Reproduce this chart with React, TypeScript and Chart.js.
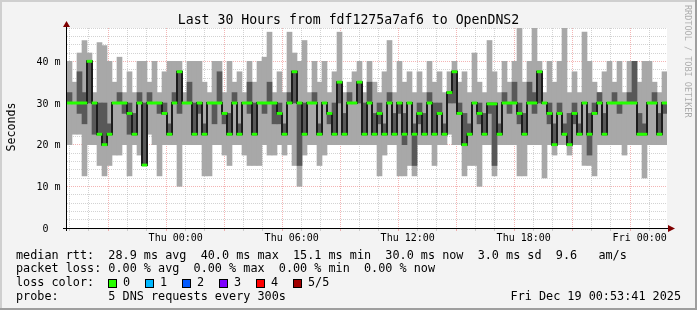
import { useEffect, useRef } from "react";
import { Chart, registerables } from "chart.js";

Chart.register(...registerables);

// ---- data (ms), 120 slots of 15 min each, Wed 18:53:41 -> Fri 00:53:41 ----
const pingMin = [
  20, 22.5, 22.5, 12.5, 20, 20, 15, 12.5, 15, 17.5, 17.5, 20, 12.5, 20, 17.5, 15, 22.5, 20, 12.5, 20, 20, 20, 10, 20, 20, 20, 20, 12.5, 12.5, 20,
  20, 17.5, 15, 20, 20, 17.5, 15, 15, 15, 20, 17.5, 17.5, 20, 17.5, 20, 15, 10, 17.5, 20, 20, 15, 17.5, 20, 20, 20, 20, 20, 20, 20, 20,
  20, 20, 12.5, 17.5, 20, 20, 12.5, 12.5, 15, 12.5, 20, 20, 20, 15, 20, 20, 22.5, 20, 20, 12.5, 15, 15, 10, 20, 20, 12.5, 20, 20, 20, 20,
  12.5, 12.5, 20, 20, 20, 12, 20, 17.5, 20, 20, 17.5, 20, 20, 15, 15, 12.5, 20, 20, 20, 20, 20, 17.5, 20, 20, 20, 12, 20, 20, 20, 20,
];
const pingLow = [
  30, 30, 27.5, 25, 30, 22.5, 22.5, 20, 22.5, 30, 30, 27.5, 22.5, 22.5, 30, 15.1, 30, 30, 27.5, 27.5, 22.5, 30, 27.5, 30, 30, 22.5, 27.5, 22.5, 30, 25,
  30, 25, 22.5, 30, 22.5, 30, 27.5, 22.5, 30, 27.5, 30, 25, 25, 22.5, 30, 30, 15, 22.5, 30, 30, 22.5, 30, 25, 22.5, 30, 22.5, 30, 30, 30, 22.5,
  30, 22.5, 25, 22.5, 30, 22.5, 27.5, 20, 30, 15, 25, 22.5, 30, 22.5, 27.5, 22.5, 30, 30, 27.5, 20, 22.5, 30, 25, 22.5, 27.5, 15, 22.5, 30, 27.5, 30,
  25, 22.5, 30, 27.5, 30, 30, 25, 20, 27.5, 22.5, 20, 25, 22.5, 30, 17.5, 27.5, 30, 22.5, 30, 30, 27.5, 30, 30, 30, 22.5, 22.5, 30, 30, 22.5, 27.5,
];
const medianRtt = [
  30, 30, 30, 30, 40, 30, 22.5, 20, 22.5, 30, 30, 30, 27.5, 22.5, 30, 15.1, 30, 30, 30, 27.5, 22.5, 30, 37.5, 30, 30, 22.5, 30, 22.5, 30, 30,
  30, 27.5, 22.5, 30, 22.5, 30, 30, 22.5, 30, 30, 30, 30, 27.5, 22.5, 30, 37.5, 30, 22.5, 30, 30, 22.5, 30, 27.5, 22.5, 35, 22.5, 30, 30, 35, 22.5,
  30, 22.5, 27.5, 22.5, 30, 22.5, 30, 22.5, 30, 22.5, 27.5, 22.5, 30, 22.5, 27.5, 22.5, 32.5, 37.5, 27.5, 20, 22.5, 30, 27.5, 22.5, 29.8, 29.8, 22.5, 30, 30, 30,
  27.5, 22.5, 30, 30, 37.5, 30, 27.5, 20, 27.5, 22.5, 20, 27.5, 22.5, 30, 22.5, 27.5, 30, 22.5, 30, 30, 30, 30, 30, 30, 22.5, 22.5, 30, 30, 22.5, 30,
];
const pingHigh = [
  32.5, 30, 37.5, 32.5, 40, 30, 30, 30, 25, 30, 32.5, 30, 30, 27.5, 32.5, 30, 32.5, 30, 30, 30, 25, 32.5, 37.5, 30, 35, 30, 30, 25, 30, 30,
  37.5, 27.5, 27.5, 32.5, 25, 30, 35, 30, 30, 30, 35, 30, 30, 25, 32.5, 37.5, 30, 30, 30, 32.5, 25, 30, 27.5, 30, 35, 27.5, 32.5, 30, 35, 30,
  35, 27.5, 30, 25, 32.5, 27.5, 30, 27.5, 30, 25, 30, 27.5, 32.5, 30, 30, 25, 32.5, 37.5, 30, 27.5, 25, 30, 30, 27.5, 29.8, 29.8, 25, 32.5, 30, 35,
  30, 27.5, 35, 32.5, 37.5, 30, 30, 25, 30, 25, 27.5, 30, 25, 30, 27.5, 30, 32.5, 27.5, 30, 32.5, 30, 30, 32.5, 40, 27.5, 25, 30, 32.5, 27.5, 30,
];
const pingMax = [
  40, 35, 42, 45, 42, 32.5, 44.5, 43.8, 40, 35, 41, 32.5, 37.5, 32.5, 40, 40, 35, 40, 32.5, 37.5, 40, 40, 40, 32.5, 40, 40, 40, 35, 32.5, 40,
  40, 32.5, 40, 35, 37.5, 32.5, 40, 35, 40, 41, 47, 32.5, 37.5, 32.5, 47, 42, 40, 45, 32.5, 40, 35, 40, 32.5, 37.5, 47, 32.5, 35, 37.5, 40, 32.5,
  40, 35, 32.5, 37.5, 45, 32.5, 40, 35, 37.5, 32.5, 37.5, 32.5, 40, 35, 37.5, 32.5, 37.5, 40, 35, 37.5, 32.5, 42, 35, 32.5, 45, 37.5, 32.5, 40, 35, 40,
  48, 35, 40, 48, 40, 32.5, 40, 35, 40, 48, 32.5, 37.5, 32.5, 47, 40, 35, 32.5, 37.5, 40, 35, 40, 32.5, 40, 40, 35, 40, 40, 35, 32.5, 37.5,
];
const slotLabels = medianRtt.map((_, i) => `slot ${i}`);

// axis ticks
const xSpanHours = 30;
const firstHourTick = 0.1053; // Wed 19:00 relative to start
const firstClockHour = 19;
const xTickLabels = ["Thu 00:00", "Thu 06:00", "Thu 12:00", "Thu 18:00", "Fri 00:00"];
const xTickHours = [5.1053, 11.1053, 17.1053, 23.1053, 29.1053];
const yTickValues = [0, 10, 20, 30, 40];
const yTickLabels = ["0  ", "10 m", "20 m", "30 m", "40 m"];

// texts
const titleText = "Last 30 Hours from fdf1275a7af6 to OpenDNS2";
const yAxisTitle = "Seconds";
const watermark = "RRDTOOL / TOBI OETIKER";
const legendRows = [
  "median rtt:  28.9 ms avg  40.0 ms max  15.1 ms min  30.0 ms now  3.0 ms sd  9.6   am/s",
  "packet loss: 0.00 % avg  0.00 % max  0.00 % min  0.00 % now",
  "loss color:",
  "probe:       5 DNS requests every 300s",
];
const lossLabels = ["0", "1", "2", "3", "4", "5/5"];
const lossColors = ["#26ff00", "#00b8ff", "#0059ff", "#7e00ff", "#ff0000", "#a10000"];
const dateStamp = "Fri Dec 19 00:53:41 2025";

const W = 697;
const H = 310;
const MONO = '"DejaVu Sans Mono", monospace';

const hourTicks = Array.from({ length: xSpanHours }, (_, k) => firstHourTick + k);
const isMajorHour = (v: number) => {
  const k = Math.round(v - firstHourTick);
  return (firstClockHour + k) % 3 === 0;
};
const MAJOR = "rgba(230,90,90,0.45)";
const MINOR = "rgba(150,150,150,0.42)";
const xGridColor = (c: any) => (c && c.tick && isMajorHour(c.tick.value) ? MAJOR : MINOR);
const yGridColor = (c: any) => (c && c.tick && c.tick.value % 10 === 0 ? MAJOR : MINOR);

const bgPlugin = {
  id: "rrdBackground",
  beforeDraw(chart: any) {
    const ctx = chart.ctx;
    const { left, top, right, bottom } = chart.chartArea;
    ctx.save();
    ctx.fillStyle = "#f3f3f3";
    ctx.fillRect(0, 0, W, H);
    ctx.fillStyle = "#cfcfcf";
    ctx.fillRect(0, 0, W, 2);
    ctx.fillRect(0, 0, 2, H);
    ctx.fillStyle = "#9e9e9e";
    ctx.fillRect(0, H - 2, W, 2);
    ctx.fillRect(W - 2, 0, 2, H);
    ctx.fillStyle = "#ffffff";
    ctx.fillRect(left, top, right - left, bottom - top);
    ctx.restore();
  },
};

const overlayPlugin = {
  id: "rrdOverlay",
  afterDraw(chart: any) {
    const ctx = chart.ctx;
    const { left, bottom } = chart.chartArea;
    const xs = chart.scales.xt;
    const ys = chart.scales.y;
    ctx.save();
    // axes
    ctx.strokeStyle = "#000";
    ctx.lineWidth = 1;
    ctx.beginPath();
    ctx.moveTo(left - 0.5, bottom + 3);
    ctx.lineTo(left - 0.5, 26);
    ctx.moveTo(left - 4, bottom + 0.5);
    ctx.lineTo(669, bottom + 0.5);
    ctx.stroke();
    ctx.fillStyle = "#7f0000";
    ctx.beginPath();
    ctx.moveTo(left - 0.5, 21);
    ctx.lineTo(left - 4, 27);
    ctx.lineTo(left + 3, 27);
    ctx.closePath();
    ctx.fill();
    ctx.beginPath();
    ctx.moveTo(675, bottom + 0.5);
    ctx.lineTo(668, bottom - 3);
    ctx.lineTo(668, bottom + 4);
    ctx.closePath();
    ctx.fill();

    ctx.fillStyle = "#000";
    // y tick labels
    ctx.font = `10px ${MONO}`;
    ctx.textAlign = "right";
    ctx.textBaseline = "alphabetic";
    yTickValues.forEach((v, i) => {
      ctx.fillText(yTickLabels[i], 60.5, ys.getPixelForValue(v) + 3.6);
    });
    // x tick labels
    ctx.textAlign = "center";
    xTickHours.forEach((h, i) => {
      ctx.fillText(xTickLabels[i], xs.getPixelForValue(h), 241);
    });
    // title
    ctx.font = `13.2px ${MONO}`;
    ctx.fillText(titleText, 348.5, 24);
    // y axis title
    ctx.save();
    ctx.translate(15, 127);
    ctx.rotate(-Math.PI / 2);
    ctx.font = `11.6px ${MONO}`;
    ctx.textAlign = "center";
    ctx.fillText(yAxisTitle, 0, 0);
    ctx.restore();
    // watermark
    ctx.save();
    ctx.translate(685, 5);
    ctx.rotate(Math.PI / 2);
    ctx.font = `8.5px ${MONO}`;
    ctx.textAlign = "left";
    ctx.fillStyle = "rgba(0,0,0,0.3)";
    ctx.fillText(watermark, 0, 0);
    ctx.restore();
    // legend
    ctx.font = `11.8px ${MONO}`;
    ctx.textAlign = "left";
    ctx.fillStyle = "#000";
    legendRows.forEach((row, i) => {
      ctx.fillText(row, 16, 258.5 + 13.7 * i);
    });
    lossLabels.forEach((lab, k) => {
      const bx = 108 + 37 * k;
      ctx.fillStyle = lossColors[k];
      ctx.fillRect(bx, 279, 9, 9);
      ctx.strokeStyle = "#000";
      ctx.strokeRect(bx + 0.5, 279.5, 8, 8);
      ctx.fillStyle = "#000";
      ctx.fillText(lab, bx + 15, 258.5 + 13.7 * 2);
    });
    ctx.textAlign = "right";
    ctx.fillText(dateStamp, 681, 258.5 + 13.7 * 3);
    ctx.restore();
  },
};

export default function App() {
  const ref = useRef<HTMLCanvasElement | null>(null);
  useEffect(() => {
    if (!ref.current) return;
    const barCommon = {
      type: "bar" as const,
      grouped: false,
      barPercentage: 1,
      categoryPercentage: 1,
      borderWidth: 0,
      xAxisID: "x",
      yAxisID: "y",
    };
    const chart = new Chart(ref.current, {
      type: "bar",
      data: {
        labels: slotLabels,
        datasets: [
          {
            ...barCommon,
            label: "outer smoke",
            data: pingMin.map((v, i) => [v, pingMax[i]]),
            backgroundColor: "#a8a8a8",
            order: 4,
          },
          {
            ...barCommon,
            label: "inner smoke",
            data: pingLow.map((v, i) => [v, pingHigh[i]]),
            backgroundColor: "#585858",
            order: 3,
          },
          {
            type: "line",
            label: "median",
            data: medianRtt,
            borderColor: "#1c1c1c",
            borderWidth: 2,
            stepped: "middle",
            pointRadius: 0,
            xAxisID: "x",
            yAxisID: "y",
            order: 2,
          },
          {
            ...barCommon,
            label: "loss 0",
            data: medianRtt.map((v) => [v - 0.27, v + 0.27]),
            backgroundColor: "#26ff00",
            order: 1,
          },
        ] as any,
      },
      options: {
        animation: false,
        responsive: false,
        devicePixelRatio: 1,
        layout: { padding: { left: 0, right: 30, top: 28, bottom: 0 } },
        plugins: {
          legend: { display: false },
          tooltip: { enabled: false },
          title: { display: false },
        },
        scales: {
          x: { type: "category", display: false, offset: true },
          xt: {
            type: "linear",
            position: "bottom",
            min: 0,
            max: xSpanHours,
            z: 1,
            afterFit: (s: any) => {
              s.height = 82;
            },
            afterBuildTicks: (s: any) => {
              s.ticks = hourTicks.map((v) => ({ value: v }));
            },
            ticks: { display: false },
            grid: {
              color: xGridColor,
              tickColor: xGridColor,
              lineWidth: 1,
              drawTicks: true,
              tickLength: 3,
              tickBorderDash: [],
            },
            border: { display: false, dash: [1, 1] },
          },
          y: {
            type: "linear",
            min: 0,
            max: 48,
            z: 1,
            afterFit: (s: any) => {
              s.width = 67;
            },
            ticks: { display: false, stepSize: 2, autoSkip: false },
            grid: {
              color: yGridColor,
              lineWidth: 1,
              drawTicks: false,
            },
            border: { display: false, dash: [1, 1] },
          },
        } as any,
      },
      plugins: [bgPlugin, overlayPlugin],
    });
    return () => chart.destroy();
  }, []);
  return (
    <div style={{ position: "fixed", left: 0, top: 0, width: W, height: H }}>
      <canvas ref={ref} width={W} height={H} style={{ width: W, height: H, display: "block" }} />
    </div>
  );
}
